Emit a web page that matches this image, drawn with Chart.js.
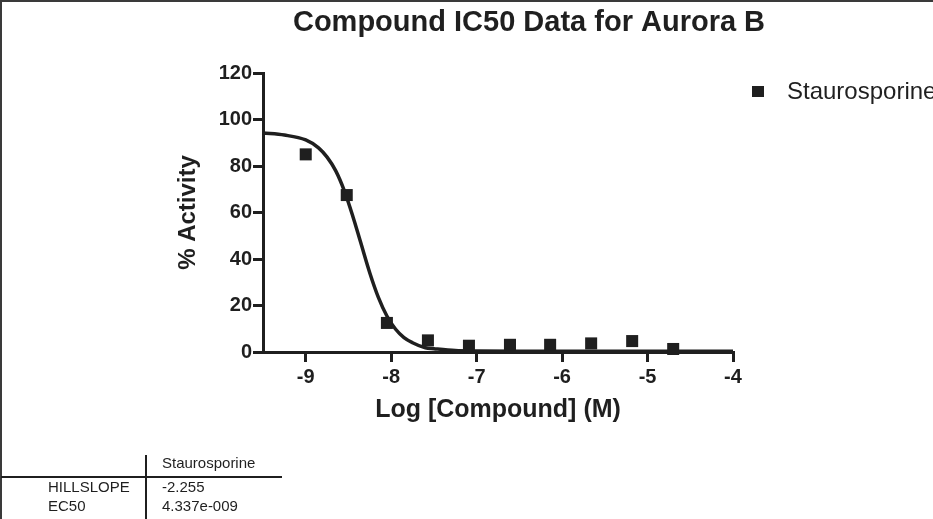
<!DOCTYPE html>
<html>
<head>
<meta charset="utf-8">
<title>Compound IC50 Data for Aurora B</title>
<script src="https://cdn.jsdelivr.net/npm/chart.js@4.4.1/dist/chart.umd.min.js"></script>
<style>
    html, body { margin: 0; padding: 0; background: #ffffff; }
    #wrap { position: relative; width: 933px; height: 519px; }
</style>
</head>
<body>
<div id="wrap"><canvas id="ic50Chart" width="933" height="519"></canvas></div>
<script>
// Measured points (log molar concentration, % activity)
const doseLog = [-9.0, -8.52, -8.05, -7.57, -7.09, -6.61, -6.14, -5.66, -5.18, -4.70];
const activity = [85.0, 67.5, 12.5, 5.0, 2.7, 3.1, 3.1, 3.7, 4.7, 1.3];

// Fitted curve
const fitLog = [-9.5, -9.25, -9.0, -8.85, -8.75, -8.65, -8.55, -8.45, -8.36, -8.25, -8.15, -8.05, -7.95, -7.85, -7.75, -7.6, -7.5, -7.25, -7.0, -6.5, -6.0, -5.0, -4.0];
const fitActivity = [94.2, 93.3, 91.2, 87.8, 83.8, 78.0, 69.5, 58.5, 47.5, 34.0, 23.5, 15.5, 9.9, 6.2, 4.0, 1.8, 1.4, 0.6, 0.4, 0.3, 0.3, 0.3, 0.3];

const xTicks = [-9, -8, -7, -6, -5, -4];
const yTicks = [0, 20, 40, 60, 80, 100, 120];

const seriesName = 'Staurosporine';
const paramNames = ['HILLSLOPE', 'EC50'];
const paramValues = ['-2.255', '4.337e-009'];

const chartTitle = 'Compound IC50 Data for Aurora B';
const xTitle = 'Log [Compound] (M)';
const yTitle = '% Activity';

const ink = '#1f1f1f';
const family = "'Liberation Sans', Arial, Helvetica, sans-serif";

// Title, legend, results table and page frame
const extrasPlugin = {
    id: 'extras',
    afterDraw(chart) {
        const ctx = chart.ctx;
        ctx.save();

        // frame
        ctx.strokeStyle = '#3a3a3a';
        ctx.lineWidth = 2;
        ctx.beginPath();
        ctx.moveTo(1, 519);
        ctx.lineTo(1, 1);
        ctx.lineTo(933, 1);
        ctx.stroke();

        // title
        ctx.fillStyle = ink;
        ctx.font = `bold 29px ${family}`;
        ctx.textAlign = 'center';
        ctx.textBaseline = 'middle';
        ctx.fillText(chartTitle, 529, 23);

        // legend
        const pts = chart.data.datasets[1];
        ctx.fillStyle = pts.backgroundColor;
        ctx.fillRect(752, 86, 12, 11);
        ctx.fillStyle = ink;
        ctx.font = `24px ${family}`;
        ctx.textAlign = 'left';
        ctx.fillText(pts.label, 787, 92);

        // results table
        ctx.strokeStyle = ink;
        ctx.lineWidth = 2;
        ctx.beginPath();
        ctx.moveTo(146, 455);
        ctx.lineTo(146, 519);
        ctx.moveTo(1, 477);
        ctx.lineTo(282, 477);
        ctx.stroke();

        ctx.font = `15px ${family}`;
        ctx.fillText(seriesName, 162, 464);
        paramNames.forEach((name, i) => {
            const y = 488 + i * 19;
            ctx.fillText(name, 48, y);
            ctx.fillText(paramValues[i], 162, y);
        });

        ctx.restore();
    }
};

const axisGrid = {
    drawOnChartArea: false,
    drawTicks: true,
    tickLength: 10,
    lineWidth: 3,
    color: ink
};

const axisBorder = { display: true, width: 3, color: ink };

new Chart(document.getElementById('ic50Chart').getContext('2d'), {
    type: 'scatter',
    data: {
        datasets: [{
            label: 'Fit',
            data: fitLog.map((x, i) => ({ x: x, y: fitActivity[i] })),
            showLine: true,
            pointRadius: 0,
            borderColor: ink,
            borderWidth: 3.5,
            cubicInterpolationMode: 'monotone',
            clip: false,
            order: 2
        }, {
            label: seriesName,
            data: doseLog.map((x, i) => ({ x: x, y: activity[i] })),
            pointStyle: 'rect',
            pointRadius: 8.5,
            pointHoverRadius: 8.5,
            backgroundColor: ink,
            borderColor: ink,
            borderWidth: 0,
            clip: false,
            order: 1
        }]
    },
    options: {
        responsive: false,
        animation: false,
        devicePixelRatio: 1,
        layout: {
            padding: { left: 170, top: 73, right: 200, bottom: 87 }
        },
        plugins: {
            legend: { display: false },
            title: { display: false },
            tooltip: { enabled: false }
        },
        scales: {
            x: {
                type: 'linear',
                position: 'bottom',
                min: -9.5,
                max: -4,
                afterBuildTicks: (scale) => {
                    scale.ticks = xTicks.map(v => ({ value: v }));
                },
                afterFit: (scale) => {
                    scale.height = 80;
                },
                ticks: {
                    color: ink,
                    padding: 3,
                    font: { family: family, size: 20, weight: 'bold' },
                    callback: (value) => String(value)
                },
                grid: axisGrid,
                border: axisBorder,
                title: {
                    display: true,
                    text: xTitle,
                    color: ink,
                    font: { family: family, size: 25, weight: 'bold' },
                    padding: { top: 0, bottom: 7 }
                }
            },
            y: {
                type: 'linear',
                min: 0,
                max: 120,
                afterBuildTicks: (scale) => {
                    scale.ticks = yTicks.map(v => ({ value: v }));
                },
                afterFit: (scale) => {
                    scale.width = 93;
                },
                ticks: {
                    color: ink,
                    padding: 1,
                    font: { family: family, size: 20, weight: 'bold' },
                    callback: (value) => String(value)
                },
                grid: axisGrid,
                border: axisBorder,
                title: {
                    display: true,
                    text: yTitle,
                    color: ink,
                    font: { family: family, size: 24, weight: 'bold' },
                    padding: { top: 4, bottom: 0 }
                }
            }
        }
    },
    plugins: [extrasPlugin]
});
</script>
</body>
</html>
